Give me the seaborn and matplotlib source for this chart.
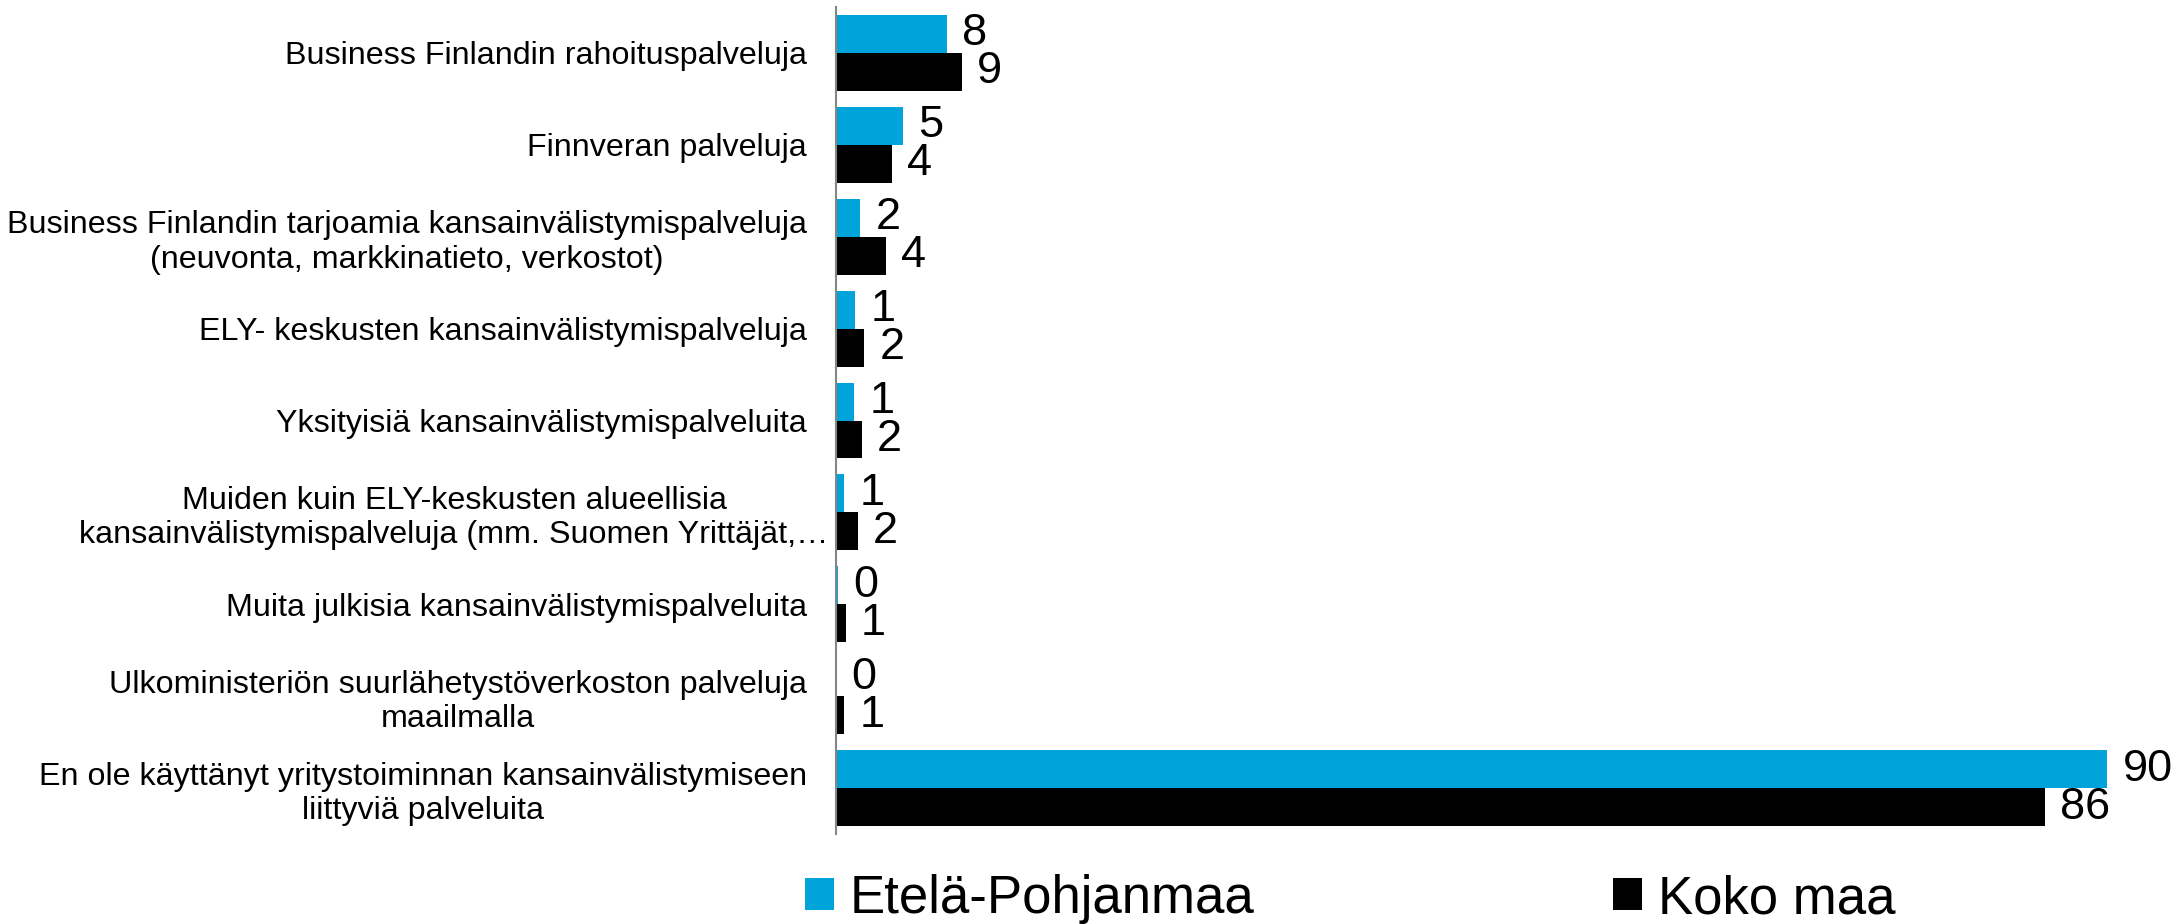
import matplotlib
matplotlib.use("Agg")
import matplotlib.pyplot as plt
import matplotlib.transforms as mtransforms
import seaborn as sns
import pandas as pd

categories = [
    "Business Finlandin rahoituspalveluja",
    "Finnveran palveluja",
    "Business Finlandin tarjoamia kansainvälistymispalveluja\n(neuvonta, markkinatieto, verkostot)",
    "ELY- keskusten kansainvälistymispalveluja",
    "Yksityisiä kansainvälistymispalveluita",
    "Muiden kuin ELY-keskusten alueellisia\nkansainvälistymispalveluja (mm. Suomen Yrittäjät,…",
    "Muita julkisia kansainvälistymispalveluita",
    "Ulkoministeriön suurlähetystöverkoston palveluja\nmaailmalla",
    "En ole käyttänyt yritystoiminnan kansainvälistymiseen\nliittyviä palveluita",
]
series_names = ["Etelä-Pohjanmaa", "Koko maa"]
etela_pohjanmaa = [7.85, 4.72, 1.72, 1.34, 1.30, 0.59, 0.16, 0.0, 90.0]
koko_maa = [8.90, 3.94, 3.52, 2.00, 1.82, 1.55, 0.69, 0.59, 85.6]
colors = ["#00A3DA", "#000000"]

df = pd.DataFrame({
    "category": categories * 2,
    "value": etela_pohjanmaa + koko_maa,
    "series": [series_names[0]] * len(categories) + [series_names[1]] * len(categories),
})

sns.set_theme(style="white")
plt.rcParams["font.family"] = ["Liberation Sans", "DejaVu Sans"]
plt.rcParams["text.color"] = "black"

W, H = 2179, 924
fig = plt.figure(figsize=(W / 100, H / 100), dpi=100)
ax_left = 836 / W
ax = fig.add_axes([ax_left, 1 - 834 / H, 1 - ax_left, (834 - 7) / H])

sns.barplot(data=df, y="category", x="value", hue="series", order=categories,
            hue_order=series_names, palette=colors, orient="h", width=0.826,
            linewidth=0, saturation=1, ax=ax, legend=True)

for cont, vals in zip(ax.containers, [etela_pohjanmaa, koko_maa]):
    ax.bar_label(cont, labels=[f"{v:.0f}" for v in vals], padding=11,
                 fontsize=32.5, color="black")

ax.set_xlim(0, (W - 836) / (1271.3 / 90))
ax.set_ylim(len(categories) - 0.5, -0.5)
ax.set_xlabel("")
ax.set_ylabel("")
ax.set_xticks([])
for s in ["top", "right", "bottom"]:
    ax.spines[s].set_visible(False)
ax.spines["left"].set_color("#868686")
ax.spines["left"].set_linewidth(1.5)
ax.tick_params(axis="y", length=0, pad=21, labelsize=23.2, labelcolor="black")
for lab in ax.get_yticklabels():
    lab.set_multialignment("center")
    if "Yrittäjät" in lab.get_text():
        lab.set_transform(lab.get_transform() +
                          mtransforms.ScaledTranslation(0.22, 0, fig.dpi_scale_trans))

handles, labels = ax.get_legend_handles_labels()
ax.get_legend().remove()
leg = fig.legend(handles, labels, loc="center", bbox_to_anchor=(1350 / W, 1 - 899 / H),
                 ncol=2, frameon=False, fontsize=38, handlelength=0.55, handleheight=0.55,
                 handletextpad=0.3, columnspacing=6.8, borderpad=0, borderaxespad=0)
for t in leg.get_texts():
    t.set_color("black")

fig.savefig("out.png", dpi=100)
